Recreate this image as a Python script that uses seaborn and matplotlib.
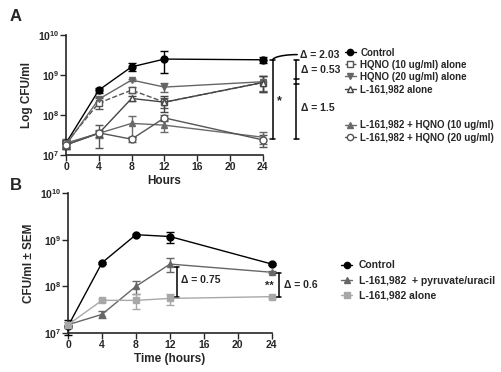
import numpy as np
import matplotlib
matplotlib.use("Agg")
import matplotlib.pyplot as plt
import seaborn as sns
from matplotlib.lines import Line2D
from matplotlib.ticker import LogLocator, NullLocator, FixedLocator

# ---- data: panel A ----
hours_a = [0, 4, 8, 12, 24]
control_a = [2.0e7, 4.2e8, 1.6e9, 2.5e9, 2.4e9]
control_a_sem = [0.4e7, 0.6e8, 0.35e9, 1.4e9, 0.4e9]
hqno10 = [2.0e7, 2.0e8, 4.2e8, 2.1e8, 6.5e8]
hqno10_sem = [0.5e7, 0.6e8, 0.7e8, 0.6e8, 2.8e8]
hqno20 = [1.8e7, 2.5e8, 7.5e8, 5.0e8, 6.8e8]
hqno20_sem = [0.4e7, 0.4e8, 0.6e8, 1.3e8, 2.8e8]
l_alone_a = [1.8e7, 3.5e7, 2.6e8, 2.1e8, 6.5e8]
l_alone_a_sem = [0.4e7, 0.6e7, 0.4e8, 0.9e8, 2.8e8]
l_hqno10 = [2.0e7, 3.5e7, 6.2e7, 5.6e7, 2.8e7]
l_hqno10_sem = [0.4e7, 0.8e7, 3.4e7, 1.8e7, 0.9e7]
l_hqno20 = [1.8e7, 3.6e7, 2.5e7, 8.5e7, 2.4e7]
l_hqno20_sem = [0.4e7, 2.1e7, 0.4e7, 1.5e7, 0.8e7]

# ---- data: panel B ----
hours_b = [0, 4, 8, 12, 24]
control_b = [1.4e7, 3.2e8, 1.28e9, 1.17e9, 3.0e8]
control_b_sem = [0.5e7, 0.2e8, 0.5e8, 0.32e9, 0.2e8]
pyruvate_b = [1.5e7, 2.5e7, 1.0e8, 3.0e8, 2.0e8]
pyruvate_b_sem = [0.2e7, 0.45e7, 0.32e8, 1.0e8, 0.1e8]
l_alone_b = [1.5e7, 5.0e7, 5.0e7, 5.5e7, 6.0e7]
l_alone_b_sem = [0.2e7, 0.3e7, 1.8e7, 1.5e7, 0.3e7]

sns.set_style("ticks")
plt.rcParams["font.family"] = ["Liberation Sans", "DejaVu Sans"]
plt.rcParams["font.weight"] = "bold"
plt.rcParams["mathtext.default"] = "bf"

fig = plt.figure(figsize=(5.02, 3.72), dpi=100)
ax_a = fig.add_axes([0.1315, 0.583, 0.392, 0.323])
ax_b = fig.add_axes([0.1355, 0.105, 0.406, 0.376])


def draw_series(ax, x, y, sem, color, marker, mfc, ls="-", ms=5):
    sns.lineplot(x=x, y=y, ax=ax, color=color, marker=marker, markersize=ms,
                 markerfacecolor=mfc, markeredgecolor=color, markeredgewidth=1,
                 linestyle=ls, linewidth=1, clip_on=False, zorder=3)
    ax.errorbar(x, y, yerr=sem, fmt="none", ecolor=color, elinewidth=1,
                capsize=3, capthick=1, clip_on=False, zorder=2)


series_a = [
    ("Control", control_a, control_a_sem, "black", "o", "black", "-"),
    ("HQNO (10 ug/ml) alone", hqno10, hqno10_sem, "#555555", "s", "white", "--"),
    ("HQNO (20 ug/ml) alone", hqno20, hqno20_sem, "#666666", "v", "#666666", "-"),
    ("L-161,982 alone", l_alone_a, l_alone_a_sem, "#444444", "^", "white", "-"),
    ("L-161,982 + HQNO (10 ug/ml)", l_hqno10, l_hqno10_sem, "#6a6a6a", "^", "#6a6a6a", "-"),
    ("L-161,982 + HQNO (20 ug/ml)", l_hqno20, l_hqno20_sem, "#555555", "o", "white", "-"),
]
for lab, y, s, c, m, f, ls in series_a:
    draw_series(ax_a, hours_a, y, s, c, m, f, ls)

series_b = [
    ("Control", control_b, control_b_sem, "black", "o", "black"),
    ("L-161,982  + pyruvate/uracil", pyruvate_b, pyruvate_b_sem, "#666666", "^", "#666666"),
    ("L-161,982 alone", l_alone_b, l_alone_b_sem, "#a8a8a8", "s", "#a8a8a8"),
]
for lab, y, s, c, m, f in series_b:
    draw_series(ax_b, hours_b, y, s, c, m, f)

for ax in (ax_a, ax_b):
    ax.set_yscale("log")
    ax.set_ylim(1e7, 1e10)
    ax.set_xlim(0, 24)
    ax.xaxis.set_major_locator(FixedLocator([0, 4, 8, 12, 16, 20, 24]))
    ax.yaxis.set_major_locator(LogLocator(base=10, numticks=5))
    ax.yaxis.set_minor_locator(NullLocator())
    ax.tick_params(labelsize=7.5, width=1, length=4, pad=1)
    for lbl in ax.get_xticklabels() + ax.get_yticklabels():
        lbl.set_fontweight("bold")
    for sp in ("left", "bottom"):
        ax.spines[sp].set_linewidth(1.2)
    sns.despine(ax=ax)

ax_a.set_xlabel("Hours", fontsize=8.5, fontweight="bold", labelpad=2)
ax_a.set_ylabel("Log CFU/ml", fontsize=8.5, fontweight="bold", labelpad=3)
ax_b.set_xlabel("Time (hours)", fontsize=8.5, fontweight="bold", labelpad=2)
ax_b.set_ylabel("CFU/ml \u00b1 SEM", fontsize=8.5, fontweight="bold", labelpad=3)

fig.text(0.02, 0.955, "A", fontsize=12, fontweight="bold", va="center")
fig.text(0.02, 0.50, "B", fontsize=12, fontweight="bold", va="center")

# ---- annotations panel A ----
kw = dict(color="black", lw=1.1, clip_on=False)
ax_a.plot([25.2, 25.2], [2.35e9, 2.5e7], **kw)
ax_a.plot([24.9, 25.5], [2.35e9, 2.35e9], **kw)
ax_a.plot([24.9, 25.5], [2.5e7, 2.5e7], **kw)
t = np.linspace(0, np.pi / 2, 40)
ax_a.plot(25.2 + 3.0 * (1 - np.cos(t)), 10 ** (9.37 + 0.14 * np.sin(t)), **kw)
ax_a.text(25.7, 2.2e8, "*", fontsize=9, ha="left", va="center", clip_on=False)
ax_a.plot([28.1, 28.1], [2.35e9, 2.5e7], **kw)
for yv in (2.35e9, 2.5e7):
    ax_a.plot([27.8, 28.4], [yv, yv], **kw)
ax_a.plot([27.8, 28.4], [7.8e8, 7.8e8], **kw)
ax_a.plot([27.8, 28.4], [5.9e8, 5.9e8], **kw)
ax_a.text(28.5, 3.2e9, "\u0394 = 2.03", fontsize=7.5, va="center", clip_on=False)
ax_a.text(28.7, 1.35e9, "\u0394 = 0.53", fontsize=7.5, va="center", clip_on=False)
ax_a.text(28.7, 1.5e8, "\u0394 = 1.5", fontsize=7.5, va="center", clip_on=False)

# ---- annotations panel B ----
ax_b.plot([12.8, 12.8], [2.6e8, 6.0e7], **kw)
for yv in (2.6e8, 6.0e7):
    ax_b.plot([12.5, 13.1], [yv, yv], **kw)
ax_b.text(13.3, 1.35e8, "\u0394 = 0.75", fontsize=7.5, va="center", clip_on=False)
ax_b.plot([24.8, 24.8], [1.9e8, 5.9e7], **kw)
for yv in (1.9e8, 5.9e7):
    ax_b.plot([24.5, 25.1], [yv, yv], **kw)
ax_b.text(24.2, 1.0e8, "**", fontsize=8, ha="right", va="center", clip_on=False)
ax_b.text(25.4, 1.05e8, "\u0394 = 0.6", fontsize=7.5, va="center", clip_on=False)


def handle(c, m, f, ls="-"):
    return Line2D([], [], color=c, marker=m, markerfacecolor=f, markeredgecolor=c,
                  linestyle=ls, linewidth=1, markersize=4.5)


blank = Line2D([], [], linestyle="none")
h_a = [handle(c, m, f, ls) for _, _, _, c, m, f, ls in series_a]
l_a = [s[0] for s in series_a]
handles_a = h_a[:4] + [blank, blank] + h_a[4:]
labels_a = l_a[:4] + ["", ""] + l_a[4:]
ax_a.legend(handles_a, labels_a, loc="upper left", bbox_to_anchor=(0.687, 0.872),
            bbox_transform=fig.transFigure, frameon=False,
            handlelength=1.1, handletextpad=0.5, labelspacing=0.22,
            borderpad=0, borderaxespad=0, prop={"weight": "bold", "size": 7})

h_b = [handle(c, m, f) for _, _, _, c, m, f in series_b]
ax_b.legend(h_b, [s[0] for s in series_b], loc="upper left",
            bbox_to_anchor=(0.679, 0.300), bbox_transform=fig.transFigure,
            frameon=False, handlelength=1.1, handletextpad=0.6, labelspacing=0.5,
            borderpad=0, borderaxespad=0, prop={"weight": "bold", "size": 7.5})

fig.savefig("out.png", dpi=100)
